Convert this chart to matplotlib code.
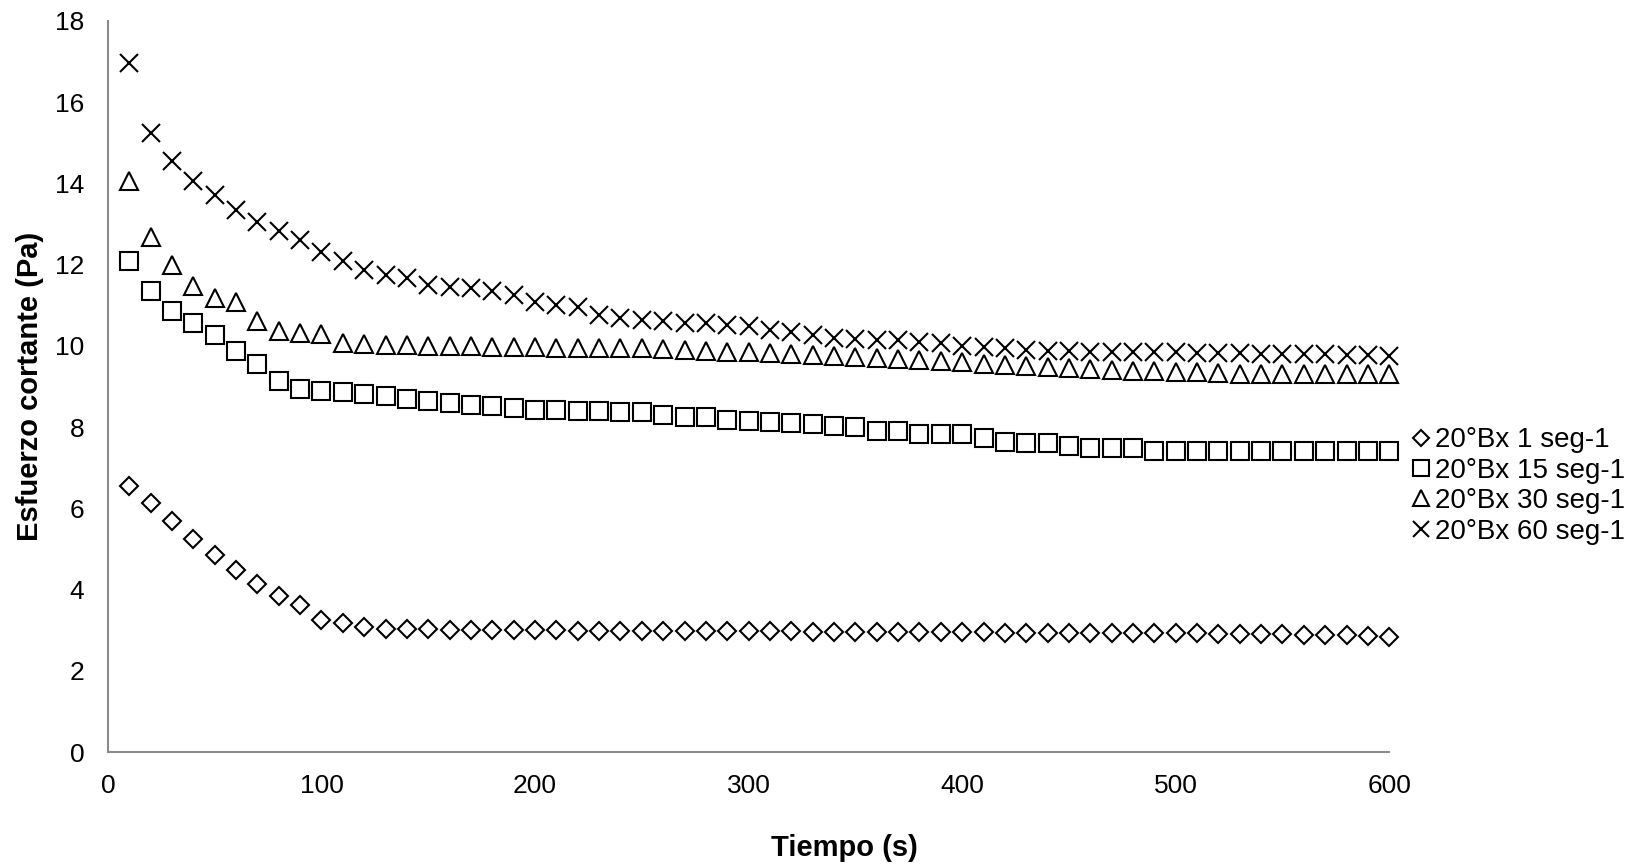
import numpy as np
import matplotlib
matplotlib.use("Agg")
import matplotlib.pyplot as plt

plt.rcParams["font.family"] = ["Liberation Sans", "DejaVu Sans"]

tiempo = list(range(10, 601, 10))

bx_1 = [6.55, 6.14, 5.70, 5.25, 4.84, 4.48, 4.14, 3.83, 3.62, 3.25,
        3.17, 3.07, 3.04, 3.02, 3.02, 3.01, 3.01, 3.00, 3.00, 3.00,
        3.00, 2.99, 2.99, 2.99, 2.99, 2.98, 2.98, 2.98, 2.97, 2.97,
        2.97, 2.97, 2.96, 2.96, 2.96, 2.96, 2.96, 2.95, 2.95, 2.95,
        2.95, 2.94, 2.94, 2.94, 2.94, 2.93, 2.93, 2.93, 2.92, 2.92,
        2.92, 2.91, 2.91, 2.90, 2.90, 2.89, 2.88, 2.87, 2.86, 2.84]

bx_15 = [12.10, 11.34, 10.85, 10.56, 10.27, 9.88, 9.55, 9.14, 8.94, 8.90,
         8.86, 8.81, 8.76, 8.69, 8.64, 8.59, 8.55, 8.52, 8.48, 8.43,
         8.41, 8.40, 8.39, 8.38, 8.37, 8.29, 8.26, 8.24, 8.17, 8.16,
         8.12, 8.09, 8.08, 8.02, 8.00, 7.91, 7.90, 7.84, 7.83, 7.82,
         7.72, 7.63, 7.61, 7.60, 7.54, 7.48, 7.48, 7.48, 7.41, 7.40,
         7.40, 7.40, 7.40, 7.40, 7.40, 7.40, 7.40, 7.40, 7.40, 7.40]

bx_30 = [14.05, 12.69, 12.00, 11.48, 11.17, 11.09, 10.62, 10.37, 10.31, 10.29,
         10.06, 10.04, 10.03, 10.02, 10.00, 10.00, 9.99, 9.98, 9.97, 9.97,
         9.96, 9.96, 9.95, 9.95, 9.94, 9.92, 9.90, 9.87, 9.85, 9.84,
         9.83, 9.80, 9.77, 9.75, 9.72, 9.70, 9.68, 9.66, 9.64, 9.60,
         9.56, 9.52, 9.50, 9.48, 9.45, 9.43, 9.41, 9.39, 9.37, 9.36,
         9.35, 9.33, 9.32, 9.31, 9.30, 9.30, 9.30, 9.30, 9.30, 9.30]

bx_60 = [16.96, 15.25, 14.56, 14.07, 13.72, 13.35, 13.04, 12.82, 12.61, 12.30,
         12.08, 11.87, 11.75, 11.67, 11.50, 11.46, 11.42, 11.34, 11.26, 11.08,
         11.01, 10.95, 10.76, 10.68, 10.64, 10.62, 10.57, 10.56, 10.52, 10.48,
         10.39, 10.35, 10.27, 10.19, 10.16, 10.15, 10.14, 10.10, 10.06, 10.00,
         9.98, 9.95, 9.90, 9.88, 9.87, 9.86, 9.86, 9.85, 9.85, 9.84,
         9.83, 9.82, 9.82, 9.81, 9.80, 9.80, 9.79, 9.78, 9.77, 9.75]

etiquetas = ["20°Bx 1 seg-1", "20°Bx 15 seg-1", "20°Bx 30 seg-1", "20°Bx 60 seg-1"]
series = [bx_1, bx_15, bx_30, bx_60]
marcadores = [("D", 9.5), ("s", 13.5), ("^", 13.5), ("x", 13.5)]

fig = plt.figure(figsize=(16.48, 8.64), dpi=100)
ax = fig.add_axes([0.0655, 0.1296, 0.7775, 0.8461])

for y, lab, (m, ms) in zip(series, etiquetas, marcadores):
    ax.plot(tiempo, y, linestyle="none", marker=m, markersize=ms,
            markerfacecolor="white", markeredgecolor="black",
            markeredgewidth=1.5, color="black", label=lab, clip_on=False)

ax.set_xlim(0, 600)
ax.set_ylim(0, 18)
ax.set_xticks(range(0, 601, 100))
ax.set_yticks(range(0, 19, 2))
ax.tick_params(length=0, labelsize=19, colors="black")
ax.tick_params(axis="x", pad=16)
ax.tick_params(axis="y", pad=17)
for s in ["top", "right"]:
    ax.spines[s].set_visible(False)
for s in ["left", "bottom"]:
    ax.spines[s].set_color("#8c8c8c")
    ax.spines[s].set_linewidth(1.5)

ax.set_xlabel("Tiempo (s)", fontsize=21, fontweight="bold")
ax.xaxis.set_label_coords(0.5745, -0.112)
ax.set_ylabel("Esfuerzo cortante (Pa)", fontsize=21, fontweight="bold", labelpad=8)

ax.legend(loc="center left", bbox_to_anchor=(1.018, 0.364), frameon=False,
          fontsize=20, handlelength=0.6, handletextpad=0.2, labelspacing=0.16,
          markerscale=0.88, borderaxespad=0, borderpad=0)

fig.savefig("out.png", dpi=100)
